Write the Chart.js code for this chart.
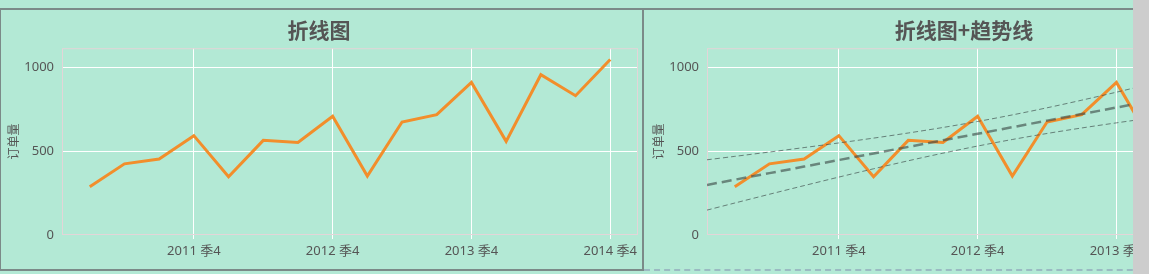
<!DOCTYPE html>
<html>
<head>
<meta charset="utf-8">
<script src="https://cdn.jsdelivr.net/npm/chart.js@4"></script>
<style>
  body { margin: 0; background: #b3e9d5; overflow: hidden; }
  #wrap { position: relative; width: 1133px; height: 274px; overflow: hidden; }
  .panel { position: absolute; top: 0; }
  #p1 { left: 0; }
  #p2 { left: 645px; }
  .frame { position: absolute; box-sizing: border-box; pointer-events: none; }
  #f1 { left: 0; top: 8px; width: 644px; height: 263px; border: 2px solid #7b8a88; border-left-width: 1px; }
  #f2 { left: 644px; top: 8px; width: 700px; height: 263px; border-top: 2px solid #7b8a88; border-bottom: 2px dashed #9bbac2; }
  #scroll { position: absolute; left: 1133px; top: 0; width: 16px; height: 274px; background: #cdcdcd; }
</style>
</head>
<body>
<div id="wrap">
  <canvas id="p1" class="panel" width="643" height="274"></canvas>
  <canvas id="p2" class="panel" width="643" height="274"></canvas>
  <div id="f1" class="frame"></div>
  <div id="f2" class="frame"></div>
</div>
<div id="scroll"></div>

<script>
  // quarters 2011 Q1 .. 2014 Q4
  const quarters = [
    '2011 季1', '2011 季2', '2011 季3', '2011 季4',
    '2012 季1', '2012 季2', '2012 季3', '2012 季4',
    '2013 季1', '2013 季2', '2013 季3', '2013 季4',
    '2014 季1', '2014 季2', '2014 季3', '2014 季4'
  ];
  const orders = [287, 424, 453, 592, 347, 564, 551, 707, 351, 673, 717, 909, 558, 955, 830, 1046];
  const tickIdx = [3, 7, 11, 15];
  const yTicks = [0, 500, 1000];

  const FONT = '"Noto Sans", "Noto Sans CJK SC", sans-serif';
  const TITLE_FONT = '"Noto Sans CJK SC", "Noto Sans", sans-serif';
  const TEXT = '#555';
  const EDGE = '#e3d5d8';
  const X_MIN = -0.8, X_MAX = 15.8, Y_MAX = 1113;
  const T95 = 2.145; // t(0.975, n-2 = 14)

  // linear regression over the data + 95% confidence band
  function trendLines() {
    const n = orders.length;
    const xm = (n - 1) / 2;
    const ym = orders.reduce((a, b) => a + b, 0) / n;
    let sxx = 0, sxy = 0;
    orders.forEach((y, i) => { sxx += (i - xm) ** 2; sxy += (i - xm) * (y - ym); });
    const slope = sxy / sxx;
    const icpt = ym - slope * xm;
    let sse = 0;
    orders.forEach((y, i) => { sse += (y - (icpt + slope * i)) ** 2; });
    const s = Math.sqrt(sse / (n - 2));

    const xs = [X_MIN, ...orders.map((_, i) => i), X_MAX];
    const mid = [], up = [], lo = [];
    xs.forEach(x => {
      const fit = icpt + slope * x;
      const h = T95 * s * Math.sqrt(1 / n + (x - xm) ** 2 / sxx);
      mid.push({ x, y: fit });
      up.push({ x, y: fit + h });
      lo.push({ x, y: fit - h });
    });
    return { mid, up, lo };
  }

  const plotFrame = {
    id: 'plotFrame',
    beforeDatasetsDraw(chart) {
      const { ctx, chartArea: a } = chart;
      ctx.save();
      ctx.strokeStyle = EDGE;
      ctx.lineWidth = 1;
      ctx.strokeRect(a.left + 0.5, a.top + 0.5, a.right - a.left - 1, a.bottom - a.top - 1);
      ctx.restore();
    }
  };

  function makeChart(id, title, withTrend) {
    const datasets = [{
      data: orders.map((v, i) => ({ x: i, y: v })),
      borderColor: '#f28e2b',
      borderWidth: 3,
      pointRadius: 0,
      order: 1
    }];

    if (withTrend) {
      const t = trendLines();
      datasets.push({
        data: t.mid, borderColor: 'rgba(60,72,70,0.62)', borderWidth: 2.5,
        borderDash: [10, 5], pointRadius: 0, order: 0
      });
      datasets.push({
        data: t.up, borderColor: 'rgba(60,72,70,0.65)', borderWidth: 1,
        borderDash: [5, 3], pointRadius: 0, tension: 0.3, order: 0
      });
      datasets.push({
        data: t.lo, borderColor: 'rgba(60,72,70,0.65)', borderWidth: 1,
        borderDash: [5, 3], pointRadius: 0, tension: 0.3, order: 0
      });
    }

    return new Chart(document.getElementById(id), {
      type: 'line',
      data: { datasets },
      plugins: [plotFrame],
      options: {
        responsive: false,
        animation: false,
        layout: { padding: { top: 17, left: 0, right: 5, bottom: 0 } },
        plugins: {
          legend: { display: false },
          tooltip: { enabled: false },
          title: {
            display: true,
            text: title,
            color: TEXT,
            font: { family: TITLE_FONT, size: 21, weight: 'bold' },
            padding: { top: 0, bottom: 6 }
          }
        },
        scales: {
          x: {
            type: 'linear',
            min: X_MIN,
            max: X_MAX,
            afterBuildTicks: s => { s.ticks = tickIdx.map(v => ({ value: v })); },
            afterFit: s => { s.height = 39; },
            ticks: {
              callback: v => quarters[v],
              color: TEXT,
              font: { family: FONT, size: 13 },
              padding: 4,
              maxRotation: 0,
              autoSkip: false
            },
            grid: { color: '#ffffff', lineWidth: 1, tickLength: 4 },
            border: { display: false }
          },
          y: {
            type: 'linear',
            min: 0,
            max: Y_MAX,
            afterBuildTicks: s => { s.ticks = yTicks.map(v => ({ value: v })); },
            afterFit: s => { s.width = 62; },
            ticks: {
              callback: v => String(v),
              color: TEXT,
              font: { family: FONT, size: 13 },
              padding: 8
            },
            grid: {
              color: c => (c.tick && c.tick.value === 0) ? 'rgba(0,0,0,0)' : '#ffffff',
              lineWidth: 1,
              drawTicks: false
            },
            border: { display: false },
            title: {
              display: true,
              text: '订单量',
              color: TEXT,
              font: { family: TITLE_FONT, size: 12 },
              padding: { top: 6, bottom: 0 }
            }
          }
        }
      }
    });
  }

  makeChart('p1', '折线图', false);
  makeChart('p2', '折线图+趋势线', true);
</script>
</body>
</html>
